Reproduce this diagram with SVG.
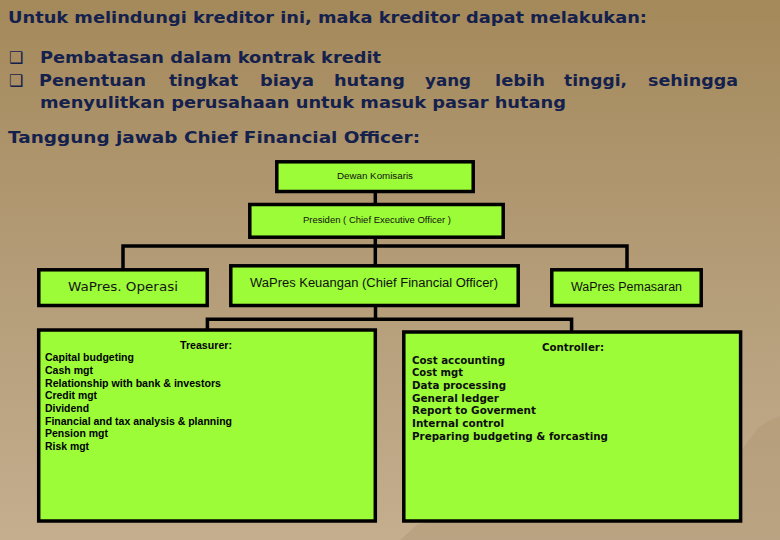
<svg xmlns="http://www.w3.org/2000/svg" width="780" height="540" viewBox="0 0 780 540">
  <defs>
    <linearGradient id="bg" x1="0" y1="0" x2="0" y2="1">
      <stop offset="0" stop-color="#a4895a"/>
      <stop offset="0.45" stop-color="#b29a75"/>
      <stop offset="1" stop-color="#c4ae8e"/>
    </linearGradient>
    <style>
      .hd { font-family: "DejaVu Sans", Verdana, sans-serif; font-weight: bold; font-size: 16px; fill: #15214d; }
      .box { fill: #9bfc37; stroke: #000; stroke-width: 3.5; }
      .con { fill: none; stroke: #000; stroke-width: 3.5; }
      .sm { font-family: "Liberation Sans", Arial, sans-serif; font-size: 8.5px; fill: #111; }
      .vp { font-family: "DejaVu Sans", Tahoma, sans-serif; font-size: 11.5px; fill: #161616; }
      .vp2 { font-family: "Liberation Sans", Arial, sans-serif; font-size: 12px; fill: #111; }
      .tr { font-family: "Liberation Sans", Arial, sans-serif; font-weight: bold; font-size: 11px; fill: #000; }
      .ct { font-family: "DejaVu Sans", Tahoma, sans-serif; font-weight: bold; font-size: 10px; fill: #0d0d0d; }
    </style>
  </defs>

  <rect x="0" y="0" width="780" height="540" fill="url(#bg)"/>
  <path d="M400,540 L418,524 L470,516 L560,509 L640,503 L705,492 L740,452 L758,428 L770,420 L780,416 L780,540 Z" fill="#b09773" opacity="0.45"/>

  <g id="heading">
    <text class="hd" x="8" y="23" textLength="639" lengthAdjust="spacingAndGlyphs">Untuk melindungi kreditor ini, maka kreditor dapat melakukan:</text>
    <text class="hd" x="9" y="63" font-size="14">❑</text>
    <text class="hd" x="40" y="63" textLength="341" lengthAdjust="spacingAndGlyphs">Pembatasan dalam kontrak kredit</text>
    <text class="hd" x="9" y="86" font-size="14">❑</text>
    <text class="hd" x="39" y="86" textLength="107" lengthAdjust="spacingAndGlyphs">Penentuan</text>
    <text class="hd" x="169" y="86" textLength="69" lengthAdjust="spacingAndGlyphs">tingkat</text>
    <text class="hd" x="260" y="86" textLength="54" lengthAdjust="spacingAndGlyphs">biaya</text>
    <text class="hd" x="334" y="86" textLength="71" lengthAdjust="spacingAndGlyphs">hutang</text>
    <text class="hd" x="425" y="86" textLength="46" lengthAdjust="spacingAndGlyphs">yang</text>
    <text class="hd" x="495" y="86" textLength="50" lengthAdjust="spacingAndGlyphs">lebih</text>
    <text class="hd" x="564" y="86" textLength="63" lengthAdjust="spacingAndGlyphs">tinggi,</text>
    <text class="hd" x="648" y="86" textLength="90" lengthAdjust="spacingAndGlyphs">sehingga</text>
    <text class="hd" x="40" y="108" textLength="526" lengthAdjust="spacingAndGlyphs">menyulitkan perusahaan untuk masuk pasar hutang</text>
    <text class="hd" x="8" y="143" textLength="412" lengthAdjust="spacingAndGlyphs">Tanggung jawab Chief Financial Officer:</text>
  </g>

  <g id="connectors">
    <line class="con" x1="375.3" y1="193" x2="375.3" y2="204"/>
    <line class="con" x1="375.3" y1="238" x2="375.3" y2="266"/>
    <polyline class="con" points="123,270 123,246 627,246 627,270"/>
    <polyline class="con" points="375.5,306 375.5,319.3 207.4,319.3 207.4,330"/>
    <polyline class="con" points="375.5,319.3 571.6,319.3 571.6,332"/>
  </g>

  <g id="dewan">
    <rect class="box" x="276.8" y="161.8" width="196.4" height="29.7"/>
    <text class="sm" x="337" y="179" textLength="76" lengthAdjust="spacingAndGlyphs">Dewan Komisaris</text>
  </g>

  <g id="presiden">
    <rect class="box" x="249.8" y="204.5" width="253.4" height="32.7"/>
    <text class="sm" x="303" y="223" textLength="148" lengthAdjust="spacingAndGlyphs">Presiden ( Chief Executive Officer )</text>
  </g>

  <g id="operasi">
    <rect class="box" x="38.8" y="269.8" width="168.4" height="35.7"/>
    <text class="vp" x="68" y="291" textLength="110" lengthAdjust="spacingAndGlyphs">WaPres. Operasi</text>
  </g>

  <g id="keuangan">
    <rect class="box" x="230.8" y="265.8" width="287.4" height="39.7"/>
    <text class="vp2" x="250" y="287" textLength="248" lengthAdjust="spacingAndGlyphs">WaPres Keuangan  (Chief Financial  Officer)</text>
  </g>

  <g id="pemasaran">
    <rect class="box" x="551.8" y="269.8" width="149.4" height="35.7"/>
    <text class="vp2" x="571" y="291" textLength="111" lengthAdjust="spacingAndGlyphs">WaPres Pemasaran</text>
  </g>

  <g id="treasurer">
    <rect class="box" x="38.7" y="330" width="336.6" height="191"/>
    <text class="tr" x="180" y="349" textLength="52" lengthAdjust="spacingAndGlyphs">Treasurer:</text>
    <text class="tr" x="45" y="361" textLength="89" lengthAdjust="spacingAndGlyphs">Capital budgeting</text>
    <text class="tr" x="45" y="374" textLength="48" lengthAdjust="spacingAndGlyphs">Cash mgt</text>
    <text class="tr" x="45" y="387" textLength="176" lengthAdjust="spacingAndGlyphs">Relationship with bank &amp; investors</text>
    <text class="tr" x="45" y="399" textLength="52" lengthAdjust="spacingAndGlyphs">Credit mgt</text>
    <text class="tr" x="45" y="412" textLength="44" lengthAdjust="spacingAndGlyphs">Dividend</text>
    <text class="tr" x="45" y="425" textLength="187" lengthAdjust="spacingAndGlyphs">Financial and tax analysis &amp; planning</text>
    <text class="tr" x="45" y="437" textLength="63" lengthAdjust="spacingAndGlyphs">Pension mgt</text>
    <text class="tr" x="45" y="450" textLength="44" lengthAdjust="spacingAndGlyphs">Risk mgt</text>
  </g>

  <g id="controller">
    <rect class="box" x="403.8" y="332" width="336.8" height="189"/>
    <text class="ct" x="542" y="351" textLength="62" lengthAdjust="spacingAndGlyphs">Controller:</text>
    <text class="ct" x="412" y="364" textLength="93" lengthAdjust="spacingAndGlyphs">Cost accounting</text>
    <text class="ct" x="412" y="376" textLength="51" lengthAdjust="spacingAndGlyphs">Cost mgt</text>
    <text class="ct" x="412" y="389" textLength="94" lengthAdjust="spacingAndGlyphs">Data processing</text>
    <text class="ct" x="412" y="402" textLength="87" lengthAdjust="spacingAndGlyphs">General ledger</text>
    <text class="ct" x="412" y="414" textLength="124" lengthAdjust="spacingAndGlyphs">Report to Goverment</text>
    <text class="ct" x="412" y="427" textLength="92" lengthAdjust="spacingAndGlyphs">Internal control</text>
    <text class="ct" x="412" y="440" textLength="196" lengthAdjust="spacingAndGlyphs">Preparing budgeting &amp; forcasting</text>
  </g>
</svg>
